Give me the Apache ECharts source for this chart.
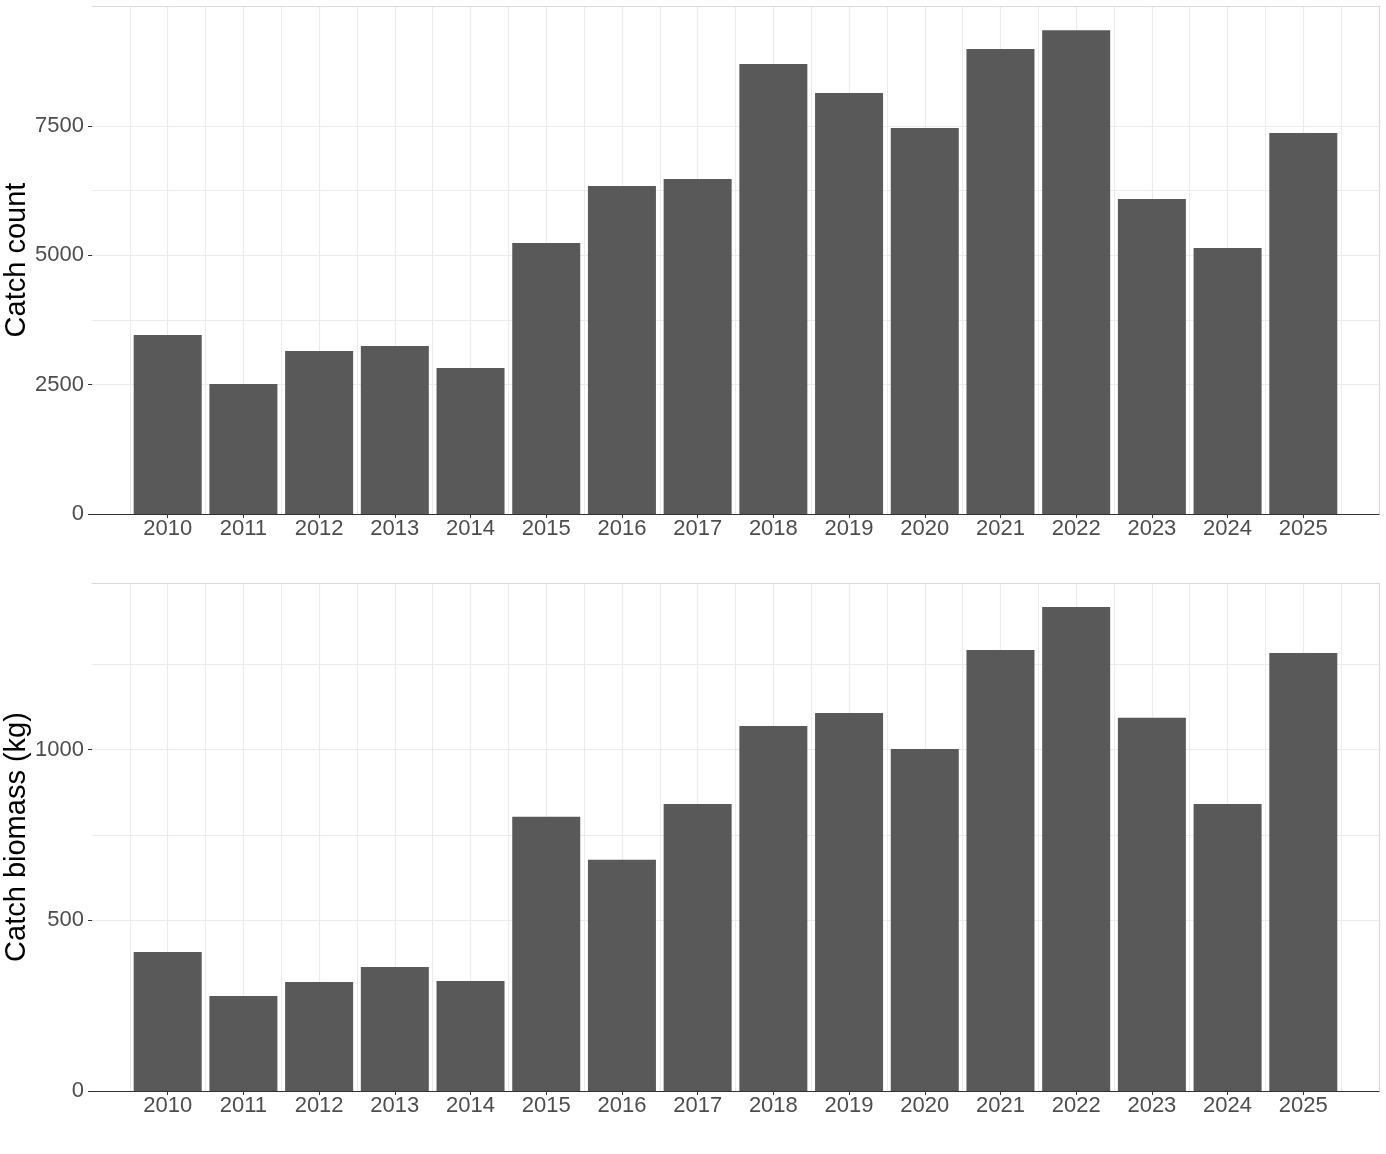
<!DOCTYPE html>
<html>
<head>
<meta charset="utf-8">
<script src="https://cdn.jsdelivr.net/npm/echarts@6/dist/echarts.min.js"></script>
<style>
html,body{margin:0;padding:0;background:#fff;}
#chart{width:1386px;height:1154px;}
</style>
</head>
<body>
<div id="chart"></div>
<script>
// ---- data ----
const years = [2010,2011,2012,2013,2014,2015,2016,2017,2018,2019,2020,2021,2022,2023,2024,2025];
const catchCount = [3460,2515,3150,3250,2825,5240,6340,6475,8700,8140,7465,8990,9355,6090,5145,7365];
const catchBiomass = [407,278,319,363,322,803,677,841,1069,1107,1002,1292,1418,1093,841,1283];
const countMajorTicks = [0,2500,5000,7500];
const countMinorBreaks = [3750,6250];
const biomassMajorTicks = [0,500,1000];
const biomassMinorBreaks = [750,1250];
const xMinorBreaks = [2009.5,2010.5,2011.5,2012.5,2013.5,2014.5,2015.5,2016.5,2017.5,2018.5,2019.5,2020.5,2021.5,2022.5,2023.5,2024.5,2025.5];
const yTitles = ['Catch count','Catch biomass (kg)'];

// ---- layout / style ----
const FONT = '"Liberation Sans", Arial, sans-serif';
const GRID_COL = '#ebebeb';
const BORDER_COL = '#d9d9d9';
const BAR_COL = '#595959';
const X_MIN = 2009, X_MAX = 2026;
const panels = [
  {top: 6, max: 9822, major: countMajorTicks, minor: countMinorBreaks, data: catchCount},
  {top: 583, max: 1488, major: biomassMajorTicks, minor: biomassMinorBreaks, data: catchBiomass}
];

const grid = [], xAxis = [], yAxis = [], series = [];
panels.forEach((p, k) => {
  grid.push({left: 92, right: 7, top: p.top, height: 508, containLabel: false, outerBoundsMode: 'none'});
  const xBase = xAxis.length, yBase = yAxis.length;
  // main x axis (line, ticks, labels) drawn above bars
  xAxis.push({
    type: 'value', gridIndex: k, min: X_MIN, max: X_MAX, interval: 1,
    axisLine: {show: true, onZero: false, lineStyle: {color: '#333333', width: 1.2}},
    axisTick: {show: true, length: 4, customValues: years, lineStyle: {color: '#333333'}},
    axisLabel: {show: true, customValues: years, margin: 4, fontSize: 22, color: '#4d4d4d', fontFamily: FONT,
      formatter: v => String(v)},
    splitLine: {show: false},
    z: 4
  });
  // major x grid (below bars)
  xAxis.push({
    type: 'value', gridIndex: k, min: X_MIN, max: X_MAX, position: 'bottom',
    axisLine: {show: false}, axisLabel: {show: false},
    axisTick: {show: false, customValues: years},
    splitLine: {show: true, lineStyle: {color: GRID_COL, width: 1.2}},
    z: 1
  });
  // minor x grid
  xAxis.push({
    type: 'value', gridIndex: k, min: X_MIN, max: X_MAX, position: 'bottom',
    axisLine: {show: false}, axisLabel: {show: false},
    axisTick: {show: false, customValues: xMinorBreaks},
    splitLine: {show: true, lineStyle: {color: GRID_COL, width: 1}},
    z: 1
  });
  // top border
  xAxis.push({
    type: 'value', gridIndex: k, min: X_MIN, max: X_MAX, position: 'top',
    axisLine: {show: true, onZero: false, lineStyle: {color: BORDER_COL, width: 1.2}},
    axisLabel: {show: false}, axisTick: {show: false}, splitLine: {show: false},
    z: 1
  });
  // main y axis
  yAxis.push({
    type: 'value', gridIndex: k, min: 0, max: p.max,
    name: yTitles[k], nameLocation: 'middle', nameGap: 61, nameMoveOverlap: false,
    nameTextStyle: {fontSize: 29, color: '#000000', fontFamily: FONT},
    axisLine: {show: false},
    axisTick: {show: true, length: 4, customValues: p.major, lineStyle: {color: '#333333'}},
    axisLabel: {show: true, customValues: p.major, margin: 8, fontSize: 22, color: '#4d4d4d', fontFamily: FONT,
      formatter: v => String(v)},
    splitLine: {show: true, lineStyle: {color: GRID_COL, width: 1.2}},
    z: 1
  });
  // minor y grid
  yAxis.push({
    type: 'value', gridIndex: k, min: 0, max: p.max, position: 'left',
    axisLine: {show: false}, axisLabel: {show: false},
    axisTick: {show: false, customValues: p.minor},
    splitLine: {show: true, lineStyle: {color: GRID_COL, width: 1}},
    z: 1
  });
  // right border
  yAxis.push({
    type: 'value', gridIndex: k, min: 0, max: p.max, position: 'right',
    axisLine: {show: true, onZero: false, lineStyle: {color: BORDER_COL, width: 1.2}},
    axisLabel: {show: false}, axisTick: {show: false}, splitLine: {show: false},
    z: 1
  });
  series.push({
    type: 'bar', xAxisIndex: xBase, yAxisIndex: yBase,
    data: years.map((y, i) => [y, p.data[i]]),
    barWidth: 68,
    itemStyle: {color: BAR_COL},
    z: 3
  });
});

const chart = echarts.init(document.getElementById('chart'), null, {renderer: 'canvas'});
chart.setOption({
  animation: false,
  backgroundColor: '#ffffff',
  grid, xAxis, yAxis, series
});
</script>
</body>
</html>
